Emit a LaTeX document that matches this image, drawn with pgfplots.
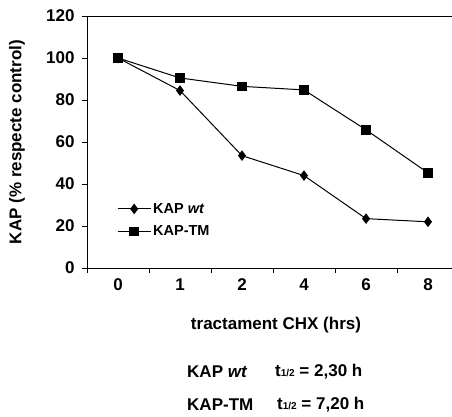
\documentclass[border=0pt]{standalone}
\usepackage{pgfplots}
\pgfplotsset{compat=1.18}
\usepackage{fontspec}
\setmainfont{Liberation Sans}
\usetikzlibrary{calc}
\begin{document}
\begin{tikzpicture}[font=\bfseries\fontsize{17}{19}\selectfont]
\begin{axis}[
  name=ax,
  scale only axis,
  width=365pt, height=252pt,
  xmin=-0.5, xmax=5.387,
  ymin=0, ymax=120,
  axis x line=bottom, axis y line=left,
  axis line style={-, line width=1pt},
  ytick={0,20,...,120},
  xtick={0,1,2,3,4,5},
  xticklabels={0,1,2,4,6,8},
  major x tick style={draw=none},
  minor xtick={-0.5,0.5,1.5,2.5,3.5,4.5},
  minor tick length=5pt,
  major tick length=5pt,
  tick style={line width=1pt, black},
  tick align=outside,
  ticklabel style={font=\bfseries\fontsize{17}{19}\selectfont},
  yticklabel style={xshift=-4pt},
  xticklabel style={yshift=-2pt},
  /pgf/number format/assume math mode=true,
  legend style={draw=none, fill=none, at={(27pt,69pt)}, anchor=north west, font=\bfseries\fontsize{14.5}{16}\selectfont, row sep=7pt},
  legend cell align=left,
  legend image code/.code={\draw[mark repeat=2,mark phase=2,#1] plot coordinates {(0pt,0pt) (16.5pt,0pt) (33pt,0pt)};},
  clip=false,
]
\addplot[black, line width=1pt, mark=diamond*, mark size=4.5pt, mark options={solid}] coordinates {
(0,100) (1,84.5) (2,53.5) (3,44) (4,23.5) (5,22)};
\addlegendentry{KAP \textit{wt}}
\addplot[black, line width=1pt, mark=square*, mark size=4.3pt, mark options={solid}] coordinates {
(0,100) (1,90.5) (2,86.5) (3,84.8) (4,65.8) (5,45.3)};
\addlegendentry{KAP-TM}
\draw[line width=1pt] (axis cs:-0.5,120) -- (axis cs:5.387,120);
\end{axis}
\node[rotate=90] at ($(ax.south west)+(-70pt,126pt)$) {KAP (\% respecte control)};
\node at ($(ax.south west)+(189pt,-57pt)$) {tractament CHX (hrs)};
\node[anchor=west,inner sep=0pt] at ($(ax.south west)+(100pt,-104pt)$) {KAP \textit{wt}};
\node[anchor=west,inner sep=0pt] at ($(ax.south west)+(188pt,-104pt)$) {t{\fontsize{10}{11}\selectfont 1/2} = 2,30 h};
\node[anchor=west,inner sep=0pt] at ($(ax.south west)+(100pt,-137pt)$) {KAP-TM};
\node[anchor=west,inner sep=0pt] at ($(ax.south west)+(190pt,-137pt)$) {t{\fontsize{10}{11}\selectfont 1/2} = 7,20 h};
\pgfresetboundingbox
\path[use as bounding box] ($(ax.south west)+(-87pt,-148pt)$) rectangle ($(ax.south west)+(365pt,268pt)$);
\end{tikzpicture}
\end{document}
